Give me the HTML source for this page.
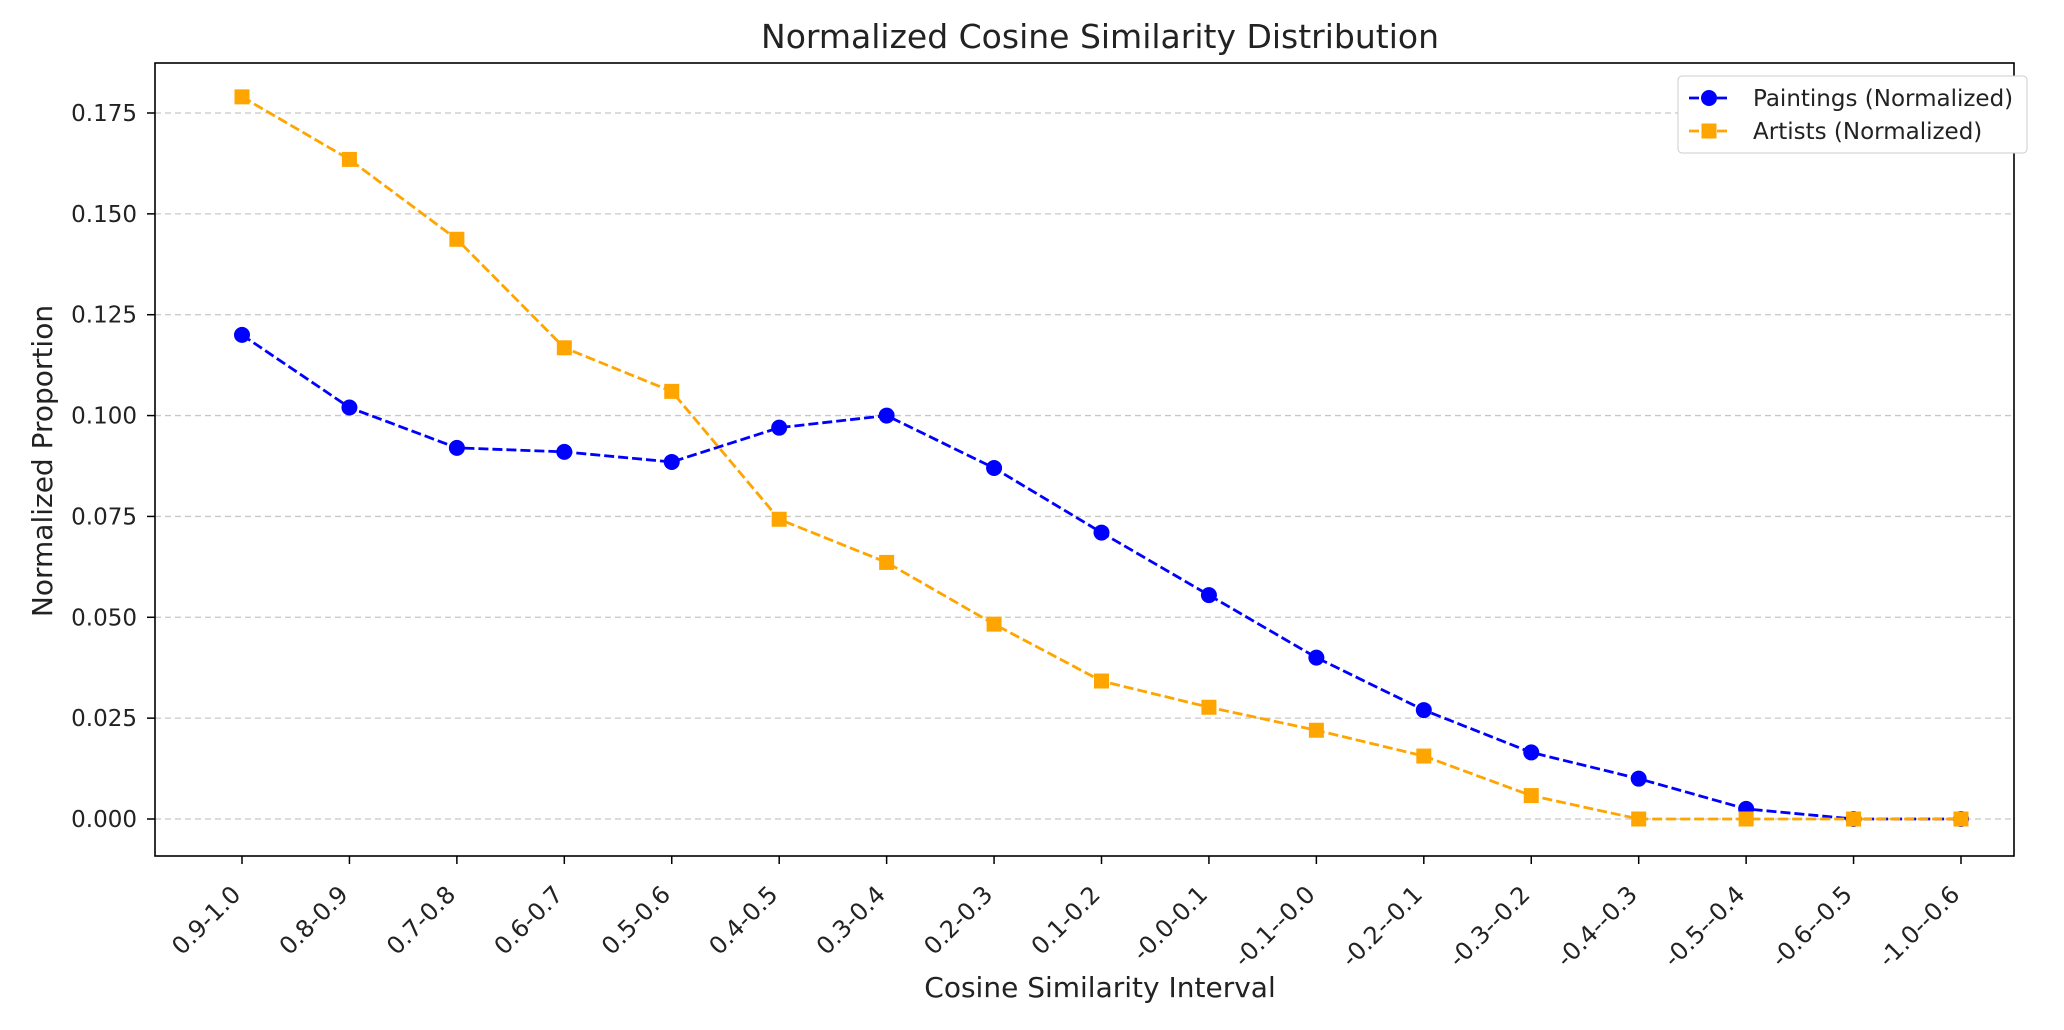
<!DOCTYPE html>
<html><head><meta charset="utf-8"><style>
body{margin:0;background:#fff;}
svg text{font-family:"DejaVu Sans","Liberation Sans",sans-serif;fill:#222;}
</style></head><body>
<svg id="chart" width="2064" height="1025" xmlns="http://www.w3.org/2000/svg">
<text x="1100" y="48" text-anchor="middle" font-size="33">Normalized Cosine Similarity Distribution</text>
<g id="grid"></g>
<g id="yticks"></g>
<g id="xticks"></g>
<g id="series"></g>
<rect x="155" y="63" width="1859" height="793" fill="none" stroke="#000" stroke-width="1.6"/>
<text x="0" y="0" transform="translate(52,461) rotate(-90)" text-anchor="middle" font-size="28">Normalized Proportion</text>
<text x="1100" y="997" text-anchor="middle" font-size="28">Cosine Similarity Interval</text>
<g>
<rect x="1678" y="76" width="349" height="77" fill="#fff" stroke="#ccc" rx="4"/>
<g>
<line x1="1689" y1="98" x2="1729" y2="98" stroke="#0000ff" stroke-width="2.8" stroke-dasharray="10,4"/>
<circle cx="1709" cy="98" r="8" fill="#0000ff"/>
<text x="1753" y="106" font-size="23">Paintings (Normalized)</text>
</g>
<g>
<line x1="1689" y1="131" x2="1729" y2="131" stroke="#ffa500" stroke-width="2.8" stroke-dasharray="10,4"/>
<rect x="1701.5" y="123.5" width="15" height="15" fill="#ffa500"/>
<text x="1753" y="139" font-size="23">Artists (Normalized)</text>
</g>
</g>
</svg>
<script>
const categories=["0.9-1.0","0.8-0.9","0.7-0.8","0.6-0.7","0.5-0.6","0.4-0.5","0.3-0.4","0.2-0.3","0.1-0.2","-0.0-0.1","-0.1--0.0","-0.2--0.1","-0.3--0.2","-0.4--0.3","-0.5--0.4","-0.6--0.5","-1.0--0.6"];
const paintings=[0.120,0.102,0.092,0.091,0.0885,0.097,0.100,0.087,0.071,0.0555,0.040,0.027,0.0165,0.010,0.0025,0,0];
const artists=[0.179,0.1635,0.1437,0.1168,0.106,0.0743,0.0636,0.0483,0.0342,0.0277,0.022,0.0156,0.0058,0,0,0,0];
const yTicks=[0,0.025,0.05,0.075,0.1,0.125,0.15,0.175];
const NS="http://www.w3.org/2000/svg";
function xs(i){return 242+i*(1961-242)/(categories.length-1);}
function ys(v){return 819-v*(819-113)/0.175;}
function mk(tag,attrs,parent){const e=document.createElementNS(NS,tag);for(const k in attrs)e.setAttribute(k,attrs[k]);parent.appendChild(e);return e;}
const grid=document.getElementById('grid'),yt=document.getElementById('yticks'),xt=document.getElementById('xticks'),ser=document.getElementById('series');
yTicks.forEach(v=>{
 const y=ys(v);
 const g=mk('line',{x1:155,x2:2014,y1:y,y2:y,stroke:'#c8c8c8','stroke-width':1.3,'stroke-dasharray':'6,4'},grid);
 
 
 mk('line',{x1:147,x2:155,y1:y,y2:y,stroke:'#000','stroke-width':1.5},yt);
 const t=mk('text',{x:137,y:y+8,'text-anchor':'end','font-size':23},yt);
 t.textContent=v.toFixed(3);
 
 
});
categories.forEach((c,i)=>{
 const x=xs(i);
 mk('line',{x1:x,x2:x,y1:856,y2:864,stroke:'#000','stroke-width':1.5},xt);
 const t=mk('text',{x:0,y:0,'text-anchor':'end','font-size':24,transform:`translate(${x},${896}) rotate(-45)`},xt);
 t.textContent=c;
 
 
});
function drawSeries(vals,color,shape,name){
 const g=mk('g',{},ser);
 
 
 const pts=vals.map((v,i)=>xs(i)+','+ys(v)).join(' ');
 mk('polyline',{points:pts,fill:'none',stroke:color,'stroke-width':2.8,'stroke-dasharray':'10,4'},g);
 vals.forEach((v,i)=>{
  let m;
  if(shape==='circle')m=mk('circle',{cx:xs(i),cy:ys(v),r:8,fill:color},g);
  else m=mk('rect',{x:xs(i)-7.5,y:ys(v)-7.5,width:15,height:15,fill:color},g);
  
  
 });
}
drawSeries(paintings,'#0000ff','circle','paintings-series');
drawSeries(artists,'#ffa500','square','artists-series');
</script>
</body></html>
